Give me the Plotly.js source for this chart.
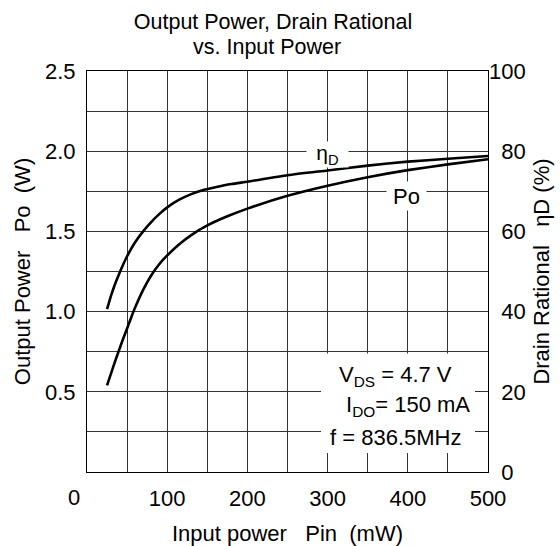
<!DOCTYPE html>
<html>
<head>
<meta charset="utf-8">
<script src="https://cdn.plot.ly/plotly-3.0.1.min.js"></script>
<style>html,body{margin:0;padding:0;background:#fff}#chart{width:560px;height:546px}</style>
</head>
<body>
<div id="chart"></div>
<script>
// Input power (mW) and Drain rational (%)
const pinEta = [25, 30, 35, 40, 45, 50, 60, 70, 80, 90, 100, 115, 130, 145, 160, 180, 200, 250, 300, 350, 400, 450, 500];
const etaD   = [40.6, 44.0, 46.9, 49.4, 51.7, 53.8, 57.3, 60.0, 62.3, 64.3, 66.0, 67.9, 69.3, 70.3, 71.0, 71.8, 72.4, 74.0, 75.2, 76.4, 77.4, 78.1, 78.8];
// Input power (mW) and Output power (W)
const pinPo  = [25, 30, 35, 40, 45, 50, 55, 60, 70, 80, 90, 100, 115, 130, 150, 175, 200, 250, 300, 350, 400, 450, 500];
const po     = [0.54, 0.615, 0.69, 0.76, 0.83, 0.895, 0.962, 1.025, 1.135, 1.225, 1.295, 1.35, 1.42, 1.477, 1.537, 1.594, 1.642, 1.722, 1.785, 1.838, 1.882, 1.918, 1.95];

const xTickVals = [100, 200, 300, 400, 500];
const xTickText = ['100', '200', '300', '400', '500'];
const yTickVals = [0.5, 1.0, 1.5, 2.0, 2.5];
const yTickText = ['0.5', '1.0', '1.5', '2.0', '2.5'];
const y2TickVals = [0, 20, 40, 60, 80, 100];
const y2TickText = ['\u20070', '\u200720', '\u200740', '\u200760', '\u200780', '100'];

const FONT = 'Liberation Sans, Arial, Helvetica, sans-serif';
const GRID = '#333';

const traces = [
  {x: pinPo, y: po, type: 'scatter', mode: 'lines', name: 'Po',
   line: {color: '#000', width: 2.6, shape: 'spline', smoothing: 0.6}, yaxis: 'y', hoverinfo: 'x+y'},
  {x: pinEta, y: etaD, type: 'scatter', mode: 'lines', name: 'ηD',
   line: {color: '#000', width: 2.6, shape: 'spline', smoothing: 0.6}, yaxis: 'y2', hoverinfo: 'x+y'}
];

const layout = {
  width: 560, height: 546,
  margin: {l: 87, r: 72, t: 71, b: 74, pad: 0},
  paper_bgcolor: '#fff', plot_bgcolor: '#fff',
  font: {family: FONT, size: 22, color: '#000'},
  showlegend: false,
  title: {text: 'Output Power, Drain Rational', font: {family: FONT, size: 21.5, color: '#000'},
          x: 273 / 560, xanchor: 'center', xref: 'container', y: 1 - 21 / 546, yanchor: 'middle', yref: 'container'},
  xaxis: {
    range: [0, 500], tickmode: 'array', tickvals: xTickVals, ticktext: xTickText,
    ticks: 'outside', ticklen: 7, tickcolor: 'rgba(0,0,0,0)',
    showgrid: true, gridcolor: GRID, gridwidth: 1, zeroline: false,
    minor: {dtick: 50, tick0: 0, showgrid: true, gridcolor: GRID, gridwidth: 1, ticks: ''},
    showline: true, linecolor: '#000', linewidth: 1, mirror: true,
    title: {text: 'Input power\u00a0\u00a0\u00a0Pin\u00a0\u00a0(mW)', font: {size: 22}, standoff: 16},
    fixedrange: true
  },
  yaxis: {
    range: [0, 2.5], tickmode: 'array', tickvals: yTickVals, ticktext: yTickText,
    ticks: 'outside', ticklen: 6, tickcolor: 'rgba(0,0,0,0)',
    showgrid: true, gridcolor: GRID, gridwidth: 1, zeroline: false,
    minor: {dtick: 0.25, tick0: 0, showgrid: true, gridcolor: GRID, gridwidth: 1, ticks: ''},
    showline: true, linecolor: '#000', linewidth: 1, mirror: true,
    title: {text: 'Output Power\u00a0\u00a0\u00a0Po\u00a0\u00a0(W)', font: {size: 22}, standoff: 8},
    fixedrange: true
  },
  yaxis2: {
    range: [0, 100], overlaying: 'y', side: 'right', anchor: 'x',
    tickmode: 'array', tickvals: y2TickVals, ticktext: y2TickText,
    ticks: '', showgrid: false, zeroline: false, showline: false,
    title: {text: 'Drain Rational\u00a0\u00a0\u00a0ηD (%)', font: {size: 22}, standoff: 8},
    fixedrange: true
  },
  shapes: [
    {type: 'rect', xref: 'x', yref: 'y', x0: 291.8, x1: 483.8, y0: 0.118, y1: 0.739,
     fillcolor: '#fff', line: {width: 0}, layer: 'above'}
  ],
  annotations: [
    {text: 'vs. Input Power', xref: 'paper', yref: 'paper', x: (267 - 87) / 401, y: (472 - 47) / 401,
     xanchor: 'center', yanchor: 'middle', showarrow: false, font: {size: 21.5}},
    {text: '0', xref: 'x', yref: 'paper', x: 0, y: -25 / 401, xshift: -13,
     xanchor: 'center', yanchor: 'middle', showarrow: false, font: {size: 22}},
    {text: 'η<sub>D</sub>', xref: 'x', yref: 'y', x: 300, y: 1.979, width: 41, height: 25,
     bgcolor: '#fff', borderpad: 0, xanchor: 'center', yanchor: 'middle', showarrow: false, font: {size: 21}},
    {text: 'Po', xref: 'x', yref: 'y', x: 398.4, y: 1.721, width: 39, height: 28,
     bgcolor: '#fff', borderpad: 0, xanchor: 'center', yanchor: 'middle', showarrow: false, font: {size: 22}},
    {text: 'V<sub>DS</sub> = 4.7 V', xref: 'x', yref: 'y', x: 311.7, y: 0.598,
     xanchor: 'left', yanchor: 'middle', showarrow: false, font: {size: 22}},
    {text: 'I<sub>DO</sub>= 150 mA', xref: 'x', yref: 'y', x: 480, y: 0.411,
     xanchor: 'right', yanchor: 'middle', showarrow: false, font: {size: 22}},
    {text: 'f = 836.5MHz', xref: 'x', yref: 'y', x: 300.5, y: 0.218,
     xanchor: 'left', yanchor: 'middle', showarrow: false, font: {size: 22}}
  ]
};

Plotly.newPlot('chart', traces, layout, {displayModeBar: false, staticPlot: true});
</script>
</body>
</html>
